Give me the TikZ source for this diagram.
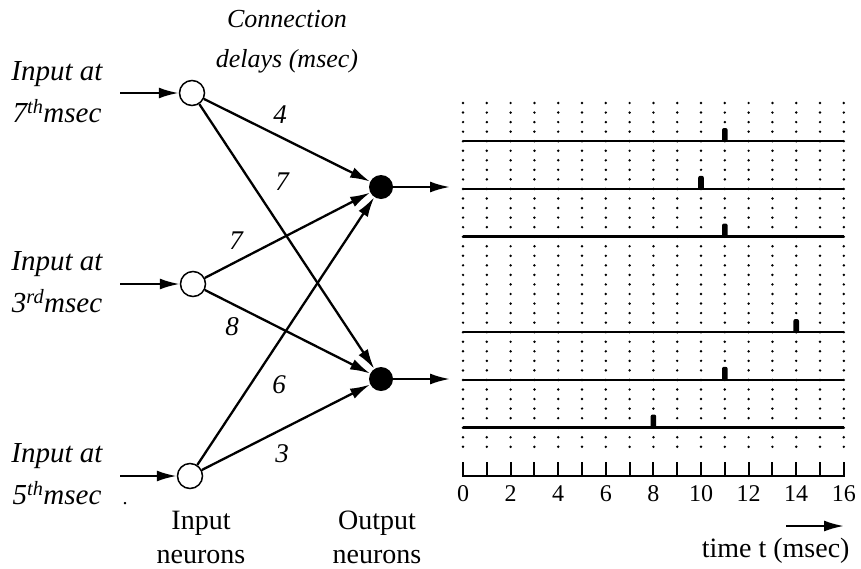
\documentclass[tikz,border=0pt]{standalone}
\usepackage{fontspec}
\setmainfont{Liberation Serif}
\usetikzlibrary{arrows.meta,positioning,calc}

\begin{document}
\begin{tikzpicture}[x=1pt, y=-1pt,
  inneuron/.style={circle, draw, line width=1.5pt, fill=white, minimum size=25pt, inner sep=0pt},
  outneuron/.style={circle, fill=black, minimum size=24pt, inner sep=0pt},
  syn/.style={line width=2.3pt, -{Latex[length=20pt,width=11pt]}},
  inlabel/.style={font=\fontsize{29}{42}\selectfont\itshape, align=center},
  delay/.style={font=\fontsize{27}{30}\selectfont\itshape},
  capt/.style={font=\fontsize{28}{34}\selectfont, align=center},
  dotline/.style={line width=2.7pt, line cap=round, dash pattern=on 0pt off 9.55pt},
  signal/.style={line width=2.1pt},
  spike/.style={fill=black, rounded corners=2pt}
]
  \useasboundingbox (0,0) rectangle (861,568);

  % network: input and output neurons
  \node[inneuron] (in1) at (192,93) {};
  \node[inneuron] (in2) at (193,284) {};
  \node[inneuron] (in3) at (190,476) {};
  \node[outneuron] (out1) at (381,187) {};
  \node[outneuron] (out2) at (381,379) {};

  % input labels and arrows
  \node[inlabel] (lab1) at (57,92) {Input at\\7\textsuperscript{th}msec};
  \node[inlabel] (lab2) at (57,282) {Input at\\3\textsuperscript{rd}msec};
  \node[inlabel] (lab3) at (57,474) {Input at\\5\textsuperscript{th}msec};
  \node[font=\fontsize{20}{20}\selectfont] (dot) at (125,504) {.};
  \coordinate (src1) at (120,93);
  \coordinate (src2) at (120,284);
  \coordinate (src3) at (120,476);
  \draw[syn] (src1) -- (in1);
  \draw[syn] (src2) -- (in2);
  \draw[syn] (src3) -- (in3);

  % weighted connections with delays
  \node[inlabel, font=\fontsize{26}{40}\selectfont\itshape] (delays) at (287,42) {Connection\\delays (msec)};
  \draw[syn] (in1) -- (out1);
  \draw[syn] (in1) -- (out2);
  \draw[syn] (in2) -- (out1);
  \draw[syn] (in2) -- (out2);
  \draw[syn] (in3) -- (out1);
  \draw[syn] (in3) -- (out2);
  \node[delay] (d11) at (280,115) {4};
  \node[delay] (d12) at (282,182) {7};
  \node[delay] (d21) at (236,241) {7};
  \node[delay] (d22) at (232,327) {8};
  \node[delay] (d31) at (279,385) {6};
  \node[delay] (d32) at (282,454) {3};

  % outputs
  \coordinate (dst1) at (450,187);
  \coordinate (dst2) at (450,379);
  \draw[syn] (out1) -- (dst1);
  \draw[syn] (out2) -- (dst2);
  \node[capt] (incap) at (201,537) {Input\\neurons};
  \node[capt] (outcap) at (377,537) {Output\\neurons};

  % spike raster
  \foreach \i in {0,...,16}{
    \draw[dotline] (463+23.8*\i,103) -- (463+23.8*\i,456);
    \draw[line width=2pt] (463+23.8*\i,462) -- (463+23.8*\i,476);
  }
  \draw[line width=2pt] (462,476) -- (845,476);
  \foreach \i in {0,2,...,16}{
    \node[font=\fontsize{24}{24}\selectfont] at (463+23.8*\i,494) {\i};
  }
  \foreach \k/\t in {0/11,1/10,2/11,4/14,5/11,6/8}{
    \draw[signal] (463,141+47.75*\k) -- (844,141+47.75*\k);
    \fill[spike] (460.2+23.8*\t,142+47.75*\k) rectangle ++(5.6,-14);
  }

  % time axis label
  \coordinate (tstart) at (786,526);
  \coordinate (tend) at (844,526);
  \draw[syn] (tstart) -- (tend);
  \node[font=\fontsize{28}{28}\selectfont, anchor=east] (tlabel) at (853,551) {time t (msec)};
\end{tikzpicture}
\end{document}
